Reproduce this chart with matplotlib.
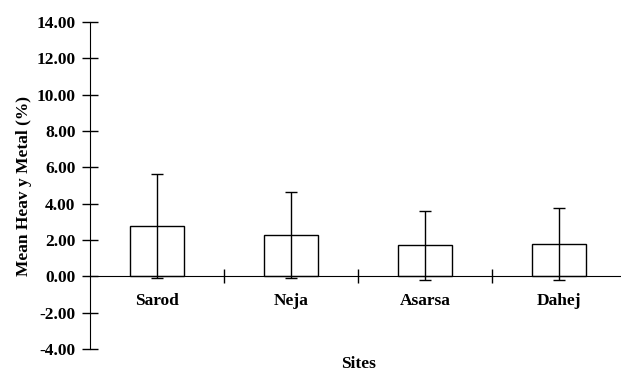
import numpy as np
import matplotlib.pyplot as plt
from matplotlib.ticker import FormatStrFormatter

sites = ['Sarod', 'Neja', 'Asarsa', 'Dahej']
mean_metal = [2.78, 2.27, 1.72, 1.78]
sd_metal = [2.88, 2.35, 1.90, 1.98]

plt.rcParams['font.family'] = ['Liberation Serif', 'DejaVu Serif']
plt.rcParams['font.weight'] = 'bold'

fig = plt.figure(figsize=(6.21, 3.71), dpi=100)
ax = fig.add_axes([90/621, 22/371, 536/621, 327/371])

x = np.arange(len(sites))
ax.bar(x, mean_metal, width=0.4, color='white', edgecolor='black', linewidth=1.0,
       yerr=sd_metal, capsize=4, error_kw={'elinewidth': 1.0, 'capthick': 1.0, 'ecolor': 'black'})

ax.set_xlim(-0.5, 3.5)
ax.set_ylim(-4, 14)
ax.set_yticks(np.arange(-4, 15, 2))
ax.yaxis.set_major_formatter(FormatStrFormatter('%.2f'))

# x-axis drawn at zero, ticks between categories, names at centres
ax.spines['bottom'].set_position(('data', 0))
ax.spines['top'].set_visible(False)
ax.spines['right'].set_visible(False)
ax.set_xticks(x[:-1] + 0.5)
ax.set_xticklabels([])
ax.set_xticks(x, minor=True)
ax.set_xticklabels(sites, minor=True)
ax.tick_params(axis='x', which='major', direction='inout', length=10, width=1.0)
ax.tick_params(axis='x', which='minor', length=0, pad=12, labelsize=12.5)
ax.tick_params(axis='y', direction='inout', length=11, width=1.0, pad=5, labelsize=12.5)

ax.set_ylabel('Mean Heav y Metal (%)', fontsize=12.5, fontweight='bold', labelpad=3)
ax.text(1.5, -4.85, 'Sites', ha='center', va='center', fontsize=12.5, fontweight='bold')

fig.savefig('out.png', dpi=100)
